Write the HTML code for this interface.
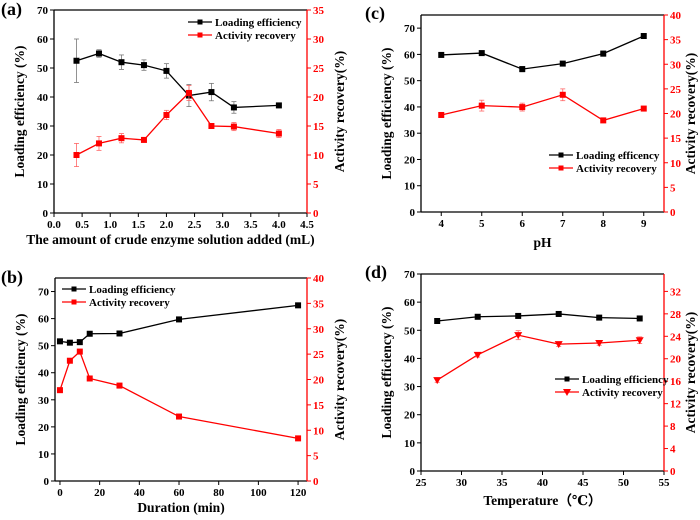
<!DOCTYPE html>
<html><head><meta charset="utf-8"><style>
body{margin:0;background:#fff;}
svg, svg text{font-family:"Liberation Serif","DejaVu Serif",serif !important;font-weight:bold;}
</style></head><body>
<svg id="fig" width="700" height="515" xmlns="http://www.w3.org/2000/svg" font-family="Liberation Serif, serif" font-weight="bold"></svg>
<script>
// Panel (a)
const aX=[0.4,0.8,1.2,1.6,2.0,2.4,2.8,3.2,4.0];
const aLoad=[52.5,55,52,51,49,40.5,41.7,36.4,37.1];
const aLoadErr=[7.5,1.3,2.5,1.8,2.5,3.8,3,2,0];
const aAct=[10,12,12.9,12.6,16.9,20.7,15,14.9,13.7];
const aActErr=[2,1.2,0.8,0,0.8,1.3,0,0.7,0.7];
const aXTicks=[0,0.5,1,1.5,2,2.5,3,3.5,4,4.5];
// Panel (b)
const bX=[0,5,10,15,30,60,120];
const bLoad=[51.6,51.1,51.3,54.4,54.5,59.7,64.9];
const bAct=[17.9,23.7,25.5,20.2,18.8,12.7,8.4];
const bXTicks=[0,20,40,60,80,100,120];
// Panel (c)
const cX=[4,5,6,7,8,9];
const cLoad=[59.8,60.5,54.4,56.5,60.3,67];
const cLoadErr=[0.5,0.8,1,0.5,1,0.3];
const cAct=[19.7,21.6,21.3,23.8,18.6,21];
const cActErr=[0.3,1.1,0.8,1.2,0.3,0.3];
const cXTicks=[4,5,6,7,8,9];
// Panel (d)
const dX=[27,32,37,42,47,52];
const dLoad=[53.3,54.8,55.1,55.8,54.5,54.2];
const dAct=[16.2,20.7,24.2,22.6,22.8,23.3];
const dActErr=[0.4,0.4,0.8,0.4,0.4,0.6];
const dXTicks=[25,30,35,40,45,50,55];
const leftTicks70=[0,10,20,30,40,50,60,70];
const rightTicks35=[0,5,10,15,20,25,30,35];
const rightTicks40=[0,5,10,15,20,25,30,35,40];
const rightTicksD=[0,4,8,12,16,20,24,28,32];

const NS="http://www.w3.org/2000/svg";
const fig=document.getElementById('fig');
function el(tag,attrs,parent,txt){const e=document.createElementNS(NS,tag);for(const k in attrs)e.setAttribute(k,attrs[k]);if(tag==='text'){e.setAttribute('font-family','Liberation Serif, serif');if(!attrs['font-weight'])e.setAttribute('font-weight','bold');}if(txt!==undefined)e.textContent=txt;(parent||fig).appendChild(e);return e;}

function panel(o){
  const g=el('g',{});
  
  
  const sx=v=>o.L+(v-o.xd[0])/(o.xd[1]-o.xd[0])*(o.R-o.L);
  const sl=v=>o.B-v/o.ly*(o.B-o.T);
  const sr=v=>o.B-v/o.ry*(o.B-o.T);
  const lab=el('text',{x:o.lx,y:o.ly0,'font-size':18,'font-weight':'normal'},g,'('+o.id+')');
  
  
  el('line',{x1:o.L,y1:o.T,x2:o.R,y2:o.T,stroke:'#000','stroke-width':1.3},g);
  el('line',{x1:o.L,y1:o.T,x2:o.L,y2:o.B,stroke:'#000','stroke-width':1.3},g);
  el('line',{x1:o.L,y1:o.B,x2:o.R,y2:o.B,stroke:'#000','stroke-width':1.3},g);
  el('line',{x1:o.R,y1:o.T,x2:o.R,y2:o.B,stroke:'#f00','stroke-width':1.3},g);
  o.xt.forEach(t=>{const x=sx(t);el('line',{x1:x,y1:o.B,x2:x,y2:o.B+4,stroke:'#000'},g);
    const tx=el('text',{x:x,y:o.B+15,'font-size':11,'text-anchor':'middle'},g,o.xfmt?o.xfmt(t):t);
    });
  o.lt.forEach(t=>{const y=sl(t);el('line',{x1:o.L-4,y1:y,x2:o.L,y2:y,stroke:'#000'},g);
    const tx=el('text',{x:o.L-6,y:y+4,'font-size':11,'text-anchor':'end'},g,t);
    });
  o.rt.forEach(t=>{const y=sr(t);el('line',{x1:o.R,y1:y,x2:o.R+4,y2:y,stroke:'#f00'},g);
    const tx=el('text',{x:o.R+6,y:y+4,'font-size':11,fill:'#f00'},g,t);
    });
  const xt=el('text',{x:(o.L+o.R)/2+(o.xto||0),y:o.B+o.xty,'font-size':13.5,'text-anchor':'middle'},g,o.xtitle);
  
  const cy=(o.T+o.B)/2;
  const yl=el('text',{x:0,y:0,'font-size':13.5,'text-anchor':'middle',transform:`translate(${o.L-30},${cy}) rotate(-90)`},g,'Loading efficiency (%)');
  
  const yr=el('text',{x:0,y:0,'font-size':13.5,'text-anchor':'middle',transform:`translate(${o.R+o.ryo},${cy}) rotate(-90)`},g,'Activity recovery(%)');
  
  function series(xs,ys,errs,sy,col,tri,name){
    const pts=xs.map((x,i)=>sx(x)+','+sy(ys[i])).join(' ');
    const pl=el('polyline',{points:pts,fill:'none',stroke:col,'stroke-width':1.3},g);
    
    xs.forEach((x,i)=>{
      const px=sx(x),py=sy(ys[i]);
      if(errs&&errs[i]>0){const y1=sy(ys[i]+errs[i]),y2=sy(ys[i]-errs[i]);
        const ec=col==='#000'?'#777':'#f66';
        el('line',{x1:px,y1:y1,x2:px,y2:y2,stroke:ec,'stroke-width':0.8},g);
        el('line',{x1:px-2.5,y1:y1,x2:px+2.5,y2:y1,stroke:ec,'stroke-width':0.8},g);
        el('line',{x1:px-2.5,y1:y2,x2:px+2.5,y2:y2,stroke:ec,'stroke-width':0.8},g);}
      let m;
      if(tri) m=el('polygon',{points:`${px-4},${py-3} ${px+4},${py-3} ${px},${py+4}`,fill:col},g);
      else m=el('rect',{x:px-3,y:py-3,width:6,height:6,fill:col},g);
      
    });
  }
  series(o.x,o.load,o.le,sl,'#000',false,'loading-efficiency');
  series(o.x,o.act,o.ae,sr,'#f00',o.tri,'activity-recovery');
  const lg=el('g',{},g);
  
  [[ '#000',o.leg1,false],['#f00','Activity recovery',o.tri]].forEach((e,i)=>{
    const y=o.gy+i*13;
    el('line',{x1:o.gx,y1:y,x2:o.gx+24,y2:y,stroke:e[0],'stroke-width':1.3},lg);
    const mx=o.gx+12;
    if(e[2]) el('polygon',{points:`${mx-4},${y-3} ${mx+4},${y-3} ${mx},${y+4}`,fill:e[0]},lg);
    else el('rect',{x:mx-2.5,y:y-2.5,width:5,height:5,fill:e[0]},lg);
    const t=el('text',{x:o.gx+27,y:y+4,'font-size':11},lg,e[1]);
    
  });
}
panel({id:'a',L:54,R:307,T:10,B:213,xd:[0,4.5],ly:70,ry:35,x:aX,load:aLoad,le:aLoadErr,act:aAct,ae:aActErr,
  xt:aXTicks,xfmt:t=>t.toFixed(1),lt:leftTicks70,rt:rightTicks35,xtitle:'The amount of crude enzyme solution added (mL)',xto:-10,xty:31,ryo:37,
  lx:1,ly0:15,gx:188,gy:22,leg1:'Loading efficiency',tri:false});
panel({id:'b',L:55,R:307,T:278,B:481,xd:[-2.5,124.5],ly:75,ry:40,x:bX,load:bLoad,act:bAct,
  xt:bXTicks,lt:leftTicks70,rt:rightTicks40,xtitle:'Duration (min)',xty:31,ryo:37,
  lx:1,ly0:283,gx:62,gy:289,leg1:'Loading efficiency',tri:false});
panel({id:'c',L:421,R:664,T:15,B:212,xd:[3.5,9.5],ly:75,ry:40,x:cX,load:cLoad,le:cLoadErr,act:cAct,ae:cActErr,
  xt:cXTicks,lt:leftTicks70,rt:rightTicks40,xtitle:'pH',xty:35,ryo:31,
  lx:365,ly0:19,gx:549,gy:155,leg1:'Loading efficency',tri:false});
panel({id:'d',L:421,R:664,T:274,B:471,xd:[25,55],ly:70,ry:35.1,x:dX,load:dLoad,act:dAct,ae:dActErr,
  xt:dXTicks,lt:leftTicks70,rt:rightTicksD,xtitle:'Temperature（℃）',xty:34,ryo:31,
  lx:365,ly0:278,gx:555,gy:379,leg1:'Loading efficiency',tri:true});
</script>
</body></html>
